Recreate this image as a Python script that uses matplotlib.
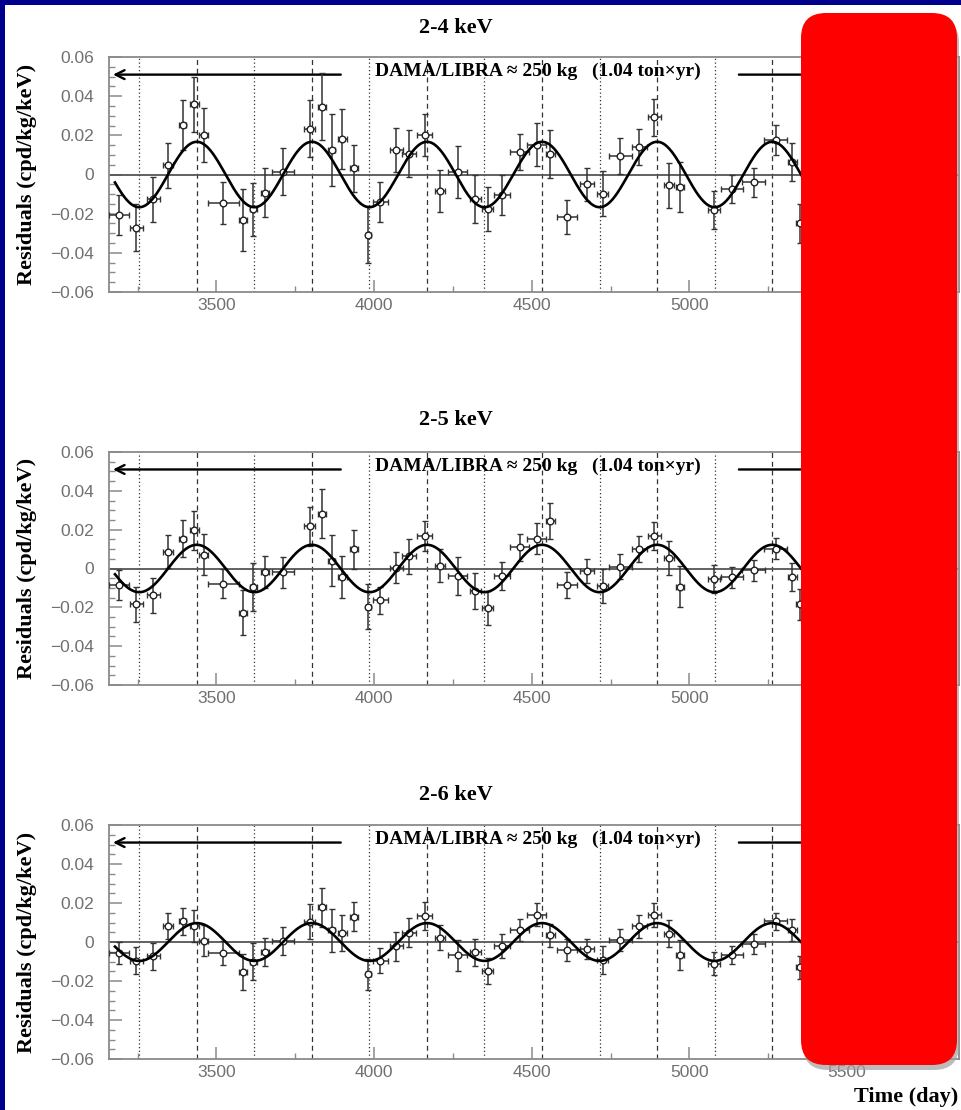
import numpy as np
import matplotlib
matplotlib.use("Agg")
import matplotlib.pyplot as plt  # noqa: E402
from matplotlib.patches import FancyBboxPatch, Rectangle  # noqa: E402
from matplotlib.ticker import MultipleLocator, FuncFormatter  # noqa: E402

# time bins (day), common to all energy windows
days = [3191, 3246, 3300, 3347, 3393, 3430, 3459, 3522, 3584, 3617, 3654, 3711,
        3795, 3834, 3865, 3899, 3937, 3982, 4020, 4070, 4111, 4160, 4210, 4265,
        4321, 4360, 4405, 4462, 4515, 4559, 4612, 4675, 4725, 4781, 4841, 4889,
        4934, 4971, 5079, 5135, 5204, 5273, 5326, 5352]
day_err = [32, 21, 22, 16, 11, 13, 13, 48, 13, 10, 13, 34,
           18, 13, 11, 15, 13, 9, 23, 20, 22, 24, 16, 30,
           17, 18, 25, 30, 29, 15, 31, 22, 17, 37, 23, 21,
           16, 13, 19, 35, 37, 37, 14, 15]

res_2_4 = [-0.0207, -0.0271, -0.0127, 0.0047, 0.0251, 0.0359, 0.0202, -0.0146, -0.0234, -0.0178, -0.0092, 0.0014,
           0.0234, 0.0347, 0.0125, 0.0181, 0.0031, -0.0307, -0.0141, 0.0127, 0.0105, 0.0200, -0.0085, 0.0014,
           -0.0127, -0.0178, -0.0105, 0.0115, 0.0153, 0.0105, -0.0217, -0.0051, -0.0098, 0.0093, 0.0141, 0.0292,
           -0.0056, -0.0063, -0.0183, -0.0076, -0.0039, 0.0178, 0.0063, -0.0250]
err_2_4 = [0.0102, 0.0119, 0.0115, 0.0116, 0.0127, 0.0140, 0.0140, 0.0106, 0.0158, 0.0136, 0.0125, 0.0120,
           0.0146, 0.0173, 0.0184, 0.0153, 0.0119, 0.0146, 0.0104, 0.0112, 0.0120, 0.0108, 0.0108, 0.0133,
           0.0123, 0.0113, 0.0102, 0.0093, 0.0110, 0.0124, 0.0087, 0.0085, 0.0114, 0.0091, 0.0092, 0.0093,
           0.0115, 0.0129, 0.0097, 0.0071, 0.0074, 0.0076, 0.0098, 0.0100]

res_2_5 = [-0.0086, -0.0185, -0.0139, 0.0086, 0.0154, 0.0196, 0.0072, -0.0079, -0.0228, -0.0094, -0.0017, -0.0019,
           0.0218, 0.0281, 0.0041, -0.0043, 0.0098, -0.0197, -0.0163, 0.0003, 0.0063, 0.0166, 0.0015, -0.0041,
           -0.0117, -0.0202, -0.0039, 0.0110, 0.0153, 0.0244, -0.0086, -0.0014, -0.0091, 0.0009, 0.0101, 0.0166,
           0.0055, -0.0094, -0.0053, -0.0045, -0.0009, 0.0103, -0.0045, -0.0185]
err_2_5 = [0.0077, 0.0091, 0.0088, 0.0085, 0.0097, 0.0100, 0.0105, 0.0075, 0.0117, 0.0123, 0.0083, 0.0080,
           0.0100, 0.0126, 0.0130, 0.0109, 0.0101, 0.0116, 0.0070, 0.0080, 0.0090, 0.0077, 0.0083, 0.0098,
           0.0094, 0.0087, 0.0074, 0.0069, 0.0079, 0.0092, 0.0067, 0.0062, 0.0086, 0.0064, 0.0067, 0.0071,
           0.0087, 0.0105, 0.0073, 0.0053, 0.0054, 0.0056, 0.0071, 0.0080]

res_2_6 = [-0.0058, -0.0096, -0.0074, 0.0082, 0.0106, 0.0082, 0.0007, -0.0056, -0.0154, -0.0101, -0.0050, 0.0005,
           0.0104, 0.0178, 0.0060, 0.0046, 0.0130, -0.0165, -0.0096, -0.0022, 0.0048, 0.0132, 0.0022, -0.0069,
           -0.0053, -0.0150, -0.0021, 0.0060, 0.0140, 0.0034, -0.0043, -0.0034, -0.0094, 0.0009, 0.0080, 0.0140,
           0.0043, -0.0068, -0.0111, -0.0065, -0.0009, 0.0106, 0.0060, -0.0130]
err_2_6 = [0.0056, 0.0068, 0.0071, 0.0068, 0.0068, 0.0084, 0.0080, 0.0062, 0.0094, 0.0096, 0.0072, 0.0073,
           0.0091, 0.0100, 0.0111, 0.0094, 0.0075, 0.0080, 0.0064, 0.0073, 0.0073, 0.0071, 0.0064, 0.0078,
           0.0070, 0.0067, 0.0062, 0.0056, 0.0060, 0.0060, 0.0056, 0.0051, 0.0071, 0.0056, 0.0057, 0.0062,
           0.0068, 0.0077, 0.0060, 0.0047, 0.0050, 0.0045, 0.0057, 0.0060]

windows = ["2-4 keV", "2-5 keV", "2-6 keV"]
residuals = [res_2_4, res_2_5, res_2_6]
errors = [err_2_4, err_2_5, err_2_6]
amplitudes = [0.0167, 0.0122, 0.0097]   # cpd/kg/keV, fitted modulation amplitude
period = 365.0                          # day
t_peak = 3437.5                         # June 2nd
fit_range = (3178, 5420)
xlim = (3160, 5855)

SERIF = "Liberation Serif"
SANS = "Liberation Sans"
GRAY = "#8a8a8a"

W, H = 962, 1110
fig = plt.figure(figsize=(W / 100, H / 100), dpi=100)
fig.patch.set_facecolor("white")

# panel frames in pixels: (top, bottom)
panels_px = [(57, 292), (452, 685), (825, 1059)]
title_y = [28, 420, 795]
left_px, right_px = 109.3, 959

peaks = np.arange(t_peak, xlim[1], period)
troughs = np.arange(t_peak - period / 2, xlim[1], period)


def ytick_fmt(v, pos):
    if abs(v) < 1e-9:
        return "0"
    return f"{v:.2f}".replace("-", "\u2212")


for i, (top, bot) in enumerate(panels_px):
    ax = fig.add_axes([left_px / W, 1 - bot / H, (right_px - left_px) / W, (bot - top) / H])

    for x in troughs:
        ax.axvline(x, color="#333333", lw=0.9, ls=(0, (1, 2)), zorder=1)
    for x in peaks:
        ax.axvline(x, color="#333333", lw=0.9, ls=(0, (4, 3)), zorder=1)
    ax.axhline(0, color="#555555", lw=1.3, zorder=2)

    ax.errorbar(days, residuals[i], yerr=errors[i], xerr=day_err, fmt="o",
                mfc="white", mec="#222222", ms=4.8, mew=1.0, ecolor="#333333",
                elinewidth=1.1, capsize=2.5, capthick=1.1, zorder=4)

    t = np.linspace(*fit_range, 900)
    ax.plot(t, amplitudes[i] * np.cos(2 * np.pi * (t - t_peak) / period),
            color="black", lw=1.9, zorder=5)

    # exposure arrows and label
    ax.annotate("", xy=(3163, 0.051), xytext=(3903, 0.051),
                arrowprops=dict(arrowstyle="->", lw=1.7, color="black", mutation_scale=16))
    ax.annotate("", xy=(5850, 0.051), xytext=(5148, 0.051),
                arrowprops=dict(arrowstyle="->", lw=1.7, color="black", mutation_scale=16))
    ax.text(4003, 0.0525, "DAMA/LIBRA \u2248 250 kg   (1.04 ton\u00d7yr)", ha="left", va="center",
            fontsize=14, fontweight="bold", family=SERIF, zorder=6)

    ax.set_xlim(*xlim)
    ax.set_ylim(-0.06, 0.06)
    ax.xaxis.set_major_locator(MultipleLocator(500))
    ax.xaxis.set_minor_locator(MultipleLocator(250))
    ax.yaxis.set_major_locator(MultipleLocator(0.02))
    ax.yaxis.set_minor_locator(MultipleLocator(0.005))
    ax.yaxis.set_major_formatter(FuncFormatter(ytick_fmt))
    ax.tick_params(which="both", direction="in", color=GRAY, labelcolor="#707070", labelsize=12.5)
    ax.tick_params(axis="y", which="major", length=9.5, width=1.1, pad=11)
    ax.tick_params(axis="y", which="minor", length=4.5, width=1.0)
    ax.tick_params(axis="x", which="major", length=9, width=1.1, pad=4)
    ax.tick_params(axis="x", which="minor", length=4.5, width=1.0)
    for lab in ax.get_xticklabels() + ax.get_yticklabels():
        lab.set_family(SANS)
    for sp in ax.spines.values():
        sp.set_color(GRAY)
        sp.set_linewidth(1.3)

    ax.set_ylabel("Residuals (cpd/kg/keV)", fontsize=16, fontweight="bold", family=SERIF)
    ax.yaxis.set_label_coords((37 - left_px) / (right_px - left_px), 0.5)

    fig.text(456 / W, 1 - title_y[i] / H, windows[i], ha="center", va="center",
             fontsize=16, fontweight="bold", family=SERIF)

fig.text(958 / W, 1 - 1097 / H, "Time (day)", ha="right", va="center",
         fontsize=16, fontweight="bold", family=SERIF)

# red cover box with soft shadow, in inches
bx, by, bw, bh = 8.01, 0.45, 1.56, 10.52
shadow = FancyBboxPatch((bx + 0.02, by - 0.05), bw, bh, boxstyle="round,pad=0,rounding_size=0.25",
                        transform=fig.dpi_scale_trans, facecolor="#a0a0a0", edgecolor="none",
                        alpha=0.7, zorder=9)
box = FancyBboxPatch((bx, by), bw, bh, boxstyle="round,pad=0,rounding_size=0.25",
                     transform=fig.dpi_scale_trans, facecolor="#ff0000", edgecolor="none", zorder=10)
fig.add_artist(shadow)
fig.add_artist(box)

# navy slide border (top and left)
navy = "#00008c"
fig.add_artist(Rectangle((0, H / 100 - 0.05), W / 100, 0.05, transform=fig.dpi_scale_trans,
                         facecolor=navy, edgecolor="none", zorder=11))
fig.add_artist(Rectangle((0, 0), 0.05, H / 100, transform=fig.dpi_scale_trans,
                         facecolor=navy, edgecolor="none", zorder=11))

fig.savefig("out.png", dpi=100)
